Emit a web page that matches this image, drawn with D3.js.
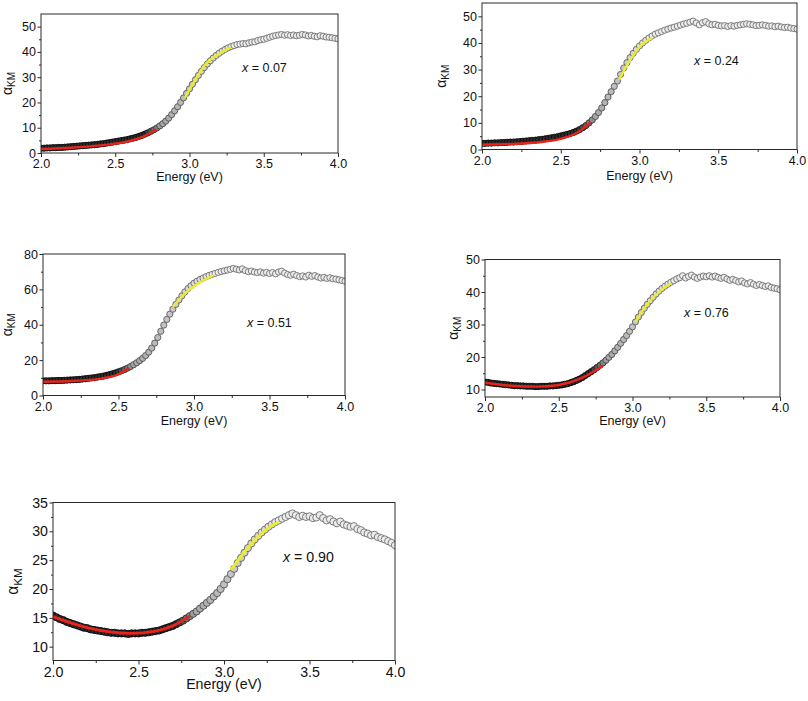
<!DOCTYPE html>
<html>
<head>
<meta charset="utf-8">
<script src="https://cdn.jsdelivr.net/npm/d3@7"></script>
<style>
  html, body { margin: 0; padding: 0; background: #fff; }
  svg { display: block; font-family: "Liberation Sans", Arial, sans-serif; }
</style>
</head>
<body>
<svg id="chart" width="808" height="701"></svg>
<script>
// ---------------- DATA ----------------
const energy = [
  2.00,2.02,2.04,2.06,2.08,2.10,2.12,2.14,2.16,2.18,
  2.20,2.22,2.24,2.26,2.28,2.30,2.32,2.34,2.36,2.38,
  2.40,2.42,2.44,2.46,2.48,2.50,2.52,2.54,2.56,2.58,
  2.60,2.62,2.64,2.66,2.68,2.70,2.72,2.74,2.76,2.78,
  2.80,2.82,2.84,2.86,2.88,2.90,2.92,2.94,2.96,2.98,
  3.00,3.02,3.04,3.06,3.08,3.10,3.12,3.14,3.16,3.18,
  3.20,3.22,3.24,3.26,3.28,3.30,3.32,3.34,3.36,3.38,
  3.40,3.42,3.44,3.46,3.48,3.50,3.52,3.54,3.56,3.58,
  3.60,3.62,3.64,3.66,3.68,3.70,3.72,3.74,3.76,3.78,
  3.80,3.82,3.84,3.86,3.88,3.90,3.92,3.94,3.96,3.98,
  4.00
];

const alpha007 = [
  1.9,1.9,2.0,2.0,2.1,2.1,2.2,2.2,2.3,2.4,
  2.5,2.6,2.7,2.8,2.9,3.0,3.1,3.2,3.3,3.4,
  3.6,3.7,3.9,4.1,4.3,4.5,4.7,4.9,5.1,5.3,
  5.6,5.9,6.2,6.6,7.0,7.5,8.0,8.6,9.2,9.9,
  10.7,11.6,12.6,13.8,15.2,16.7,18.3,20.0,21.8,23.6,
  25.4,27.2,29.0,30.7,32.3,33.8,35.2,36.5,37.6,38.6,
  39.5,40.3,41.0,41.6,42.1,42.5,42.9,43.1,43.3,43.2,
  43.6,43.9,44.0,44.5,44.8,45.0,45.4,45.8,46.2,46.5,
  46.7,46.9,46.6,46.8,46.5,46.7,46.4,46.6,46.9,46.7,
  46.3,46.5,46.2,46.0,46.4,46.2,45.9,45.8,45.6,45.4,
  45.2
];
const alpha024 = [
  2.3,2.3,2.4,2.4,2.5,2.5,2.6,2.6,2.7,2.8,
  2.8,2.9,3.0,3.1,3.2,3.3,3.4,3.5,3.7,3.8,
  4.0,4.2,4.4,4.6,4.8,5.1,5.4,5.7,6.0,6.4,
  6.9,7.5,8.2,9.0,10.0,11.1,12.4,13.9,15.6,17.6,
  19.7,21.7,23.7,25.7,28.2,30.6,32.6,34.5,36.1,37.6,
  38.9,40.0,41.0,41.9,42.6,43.3,43.8,44.3,44.8,45.2,
  45.6,45.9,46.3,46.7,47.1,47.4,47.8,48.2,47.5,46.8,
  47.6,48.0,47.2,46.8,47.0,46.6,46.4,46.5,46.2,46.5,
  46.3,46.6,46.8,47.0,47.2,47.0,46.8,46.5,46.6,46.8,
  46.6,46.3,46.4,46.1,46.3,46.0,45.8,45.9,45.6,45.4,
  45.2
];
const alpha051 = [
  8.3,8.3,8.3,8.4,8.4,8.5,8.5,8.6,8.7,8.8,
  8.9,9.0,9.1,9.3,9.5,9.7,9.9,10.1,10.4,10.7,
  11.0,11.4,11.8,12.3,12.8,13.4,14.0,14.7,15.5,16.4,
  17.4,18.5,19.7,21.0,22.6,24.5,26.8,29.6,32.8,36.3,
  39.8,43.0,46.0,48.8,51.5,54.0,56.4,58.6,60.5,62.1,
  63.5,64.6,65.6,66.4,67.2,67.9,68.5,69.0,69.6,70.1,
  70.5,70.9,71.3,71.8,71.4,71.0,71.6,70.6,70.0,70.4,
  69.8,69.5,69.9,69.2,69.6,69.0,69.5,68.8,69.8,70.3,
  69.2,68.4,68.0,68.6,67.8,67.2,67.6,67.0,68.0,67.4,
  67.8,67.0,66.4,66.8,66.2,66.6,66.0,65.8,65.4,65.0,
  64.6
];
const alpha076 = [
  12.3,12.2,12.0,11.9,11.8,11.7,11.6,11.5,11.4,11.3,
  11.2,11.2,11.1,11.1,11.0,11.0,11.0,10.9,10.9,11.0,
  11.0,11.0,11.1,11.1,11.2,11.3,11.4,11.6,11.8,12.1,
  12.4,12.8,13.2,13.7,14.3,14.9,15.5,16.1,16.8,17.5,
  18.2,19.0,19.9,20.8,21.9,23.0,24.2,25.4,26.6,27.9,
  29.3,30.8,32.3,33.7,35.0,36.2,37.3,38.4,39.4,40.3,
  41.1,41.8,42.4,43.0,43.5,44.0,44.4,45.0,44.3,44.8,
  45.2,44.6,44.2,44.6,44.9,44.7,45.0,44.6,44.9,44.5,
  44.2,44.5,44.0,43.6,43.9,43.5,43.1,43.4,42.8,42.5,
  42.9,42.4,42.0,42.3,42.0,41.7,41.9,41.4,41.2,41.0,
  40.7
];
const alpha090 = [
  15.4,15.1,14.8,14.6,14.3,14.1,13.9,13.7,13.5,13.3,
  13.2,13.0,12.9,12.8,12.7,12.6,12.5,12.4,12.4,12.3,
  12.3,12.3,12.2,12.3,12.3,12.3,12.4,12.4,12.5,12.6,
  12.7,12.8,13.0,13.2,13.4,13.6,13.9,14.2,14.5,14.9,
  15.3,15.7,16.1,16.6,17.1,17.6,18.1,18.7,19.3,20.0,
  20.8,21.7,22.6,23.5,24.5,25.4,26.3,27.1,27.9,28.6,
  29.2,29.8,30.3,30.8,31.2,31.6,31.9,32.2,32.5,32.8,
  33.1,32.8,32.5,32.7,32.5,32.6,32.3,32.4,32.8,32.3,
  31.9,32.1,31.7,31.4,31.7,31.2,31.0,30.8,30.9,30.4,
  30.2,29.8,29.6,29.3,29.4,29.0,28.8,28.6,28.3,28.0,
  27.6
];

// Fit lines (red: sub-gap region, yellow: band-edge region)
const red007E = [2.00, 2.20, 2.40, 2.50, 2.60, 2.70, 2.78];
const red007V = [1.6, 2.1, 3.0, 3.7, 4.8, 6.8, 9.4];
const yel007E = [2.97, 3.05, 3.10, 3.20, 3.28];
const yel007V = [22.0, 30.0, 34.5, 39.3, 41.8];

const red024E = [2.00, 2.20, 2.40, 2.50, 2.60, 2.69];
const red024V = [1.8, 2.1, 3.0, 4.0, 6.2, 10.2];
const yel024E = [2.87, 2.95, 3.00, 3.08];
const yel024V = [26.2, 34.5, 38.5, 41.9];

const red051E = [2.00, 2.20, 2.40, 2.50, 2.57];
const red051V = [7.8, 8.2, 9.8, 12.0, 15.6];
const yel051E = [2.86, 2.95, 3.05, 3.13];
const yel051V = [50.2, 58.5, 64.5, 68.0];

const red076E = [2.00, 2.20, 2.35, 2.50, 2.65, 2.80];
const red076V = [12.1, 11.1, 10.9, 11.4, 13.4, 17.3];
const yel076E = [3.02, 3.10, 3.20, 3.26];
const yel076V = [30.8, 36.2, 40.8, 42.6];

const red090E = [2.00, 2.20, 2.45, 2.60, 2.70, 2.80];
const red090V = [15.2, 13.3, 12.3, 12.7, 13.6, 15.3];
const yel090E = [3.04, 3.15, 3.25, 3.32];
const yel090V = [23.3, 27.5, 30.4, 31.6];

const compositions = ["0.07", "0.24", "0.51", "0.76", "0.90"];
const xTicks = [2.0, 2.5, 3.0, 3.5, 4.0];
const xMinorTicks = [2.25, 2.75, 3.25, 3.75];
const yTicks007 = [0, 10, 20, 30, 40, 50];
const yMinor007 = [5, 15, 25, 35, 45];
const yTicks051 = [0, 20, 40, 60, 80];
const yMinor051 = [10, 30, 50, 70];
const yTicks076 = [10, 20, 30, 40, 50];
const yMinor076 = [15, 25, 35, 45];
const yTicks090 = [10, 15, 20, 25, 30, 35];
const yMinor090 = [12.5, 17.5, 22.5, 27.5, 32.5];

// ---------------- LAYOUT ----------------
const panels = [
  { vals: alpha007, redE: red007E, redV: red007V, yelE: yel007E, yelV: yel007V, comp: compositions[0],
    yT: yTicks007, yM: yMinor007, yDom: [0, 55],
    L: 41, R: 338, T: 14, B: 153, fs: 12.5, yLabX: 12, xLabY: 181, ann: [242, 72], lw: 2.4 },
  { vals: alpha024, redE: red024E, redV: red024V, yelE: yel024E, yelV: yel024V, comp: compositions[1],
    yT: yTicks007, yM: yMinor007, yDom: [0, 55],
    L: 482, R: 797, T: 3, B: 149.5, fs: 12.5, yLabX: 446, xLabY: 180, ann: [694, 65], lw: 2.4 },
  { vals: alpha051, redE: red051E, redV: red051V, yelE: yel051E, yelV: yel051V, comp: compositions[2],
    yT: yTicks051, yM: yMinor051, yDom: [0, 80],
    L: 43, R: 345, T: 254, B: 395.5, fs: 12.5, yLabX: 12, xLabY: 424.5, ann: [247, 327], lw: 2.4 },
  { vals: alpha076, redE: red076E, redV: red076V, yelE: yel076E, yelV: yel076V, comp: compositions[3],
    yT: yTicks076, yM: yMinor076, yDom: [7.7, 50],
    L: 485, R: 780, T: 259.5, B: 397, fs: 12.5, yLabX: 458, xLabY: 425, ann: [684, 317], lw: 2.4 },
  { vals: alpha090, redE: red090E, redV: red090V, yelE: yel090E, yelV: yel090V, comp: compositions[4],
    yT: yTicks090, yM: yMinor090, yDom: [7.6, 35],
    L: 53, R: 395, T: 502.5, B: 660.5, fs: 14.2, yLabX: 18, xLabY: 689, ann: [283, 562], lw: 2.8 }
];

const svg = d3.select("#chart");
const frameColor = "#2a2a2a";

panels.forEach(p => {
  const x = d3.scaleLinear().domain([2.0, 4.0]).range([p.L, p.R]);
  const y = d3.scaleLinear().domain(p.yDom).range([p.B, p.T]);
  const g = svg.append("g");

  const redEnd = p.redE[p.redE.length - 1];
  const yelEnd = p.yelE[p.yelE.length - 1];
  const strokeScale = d3.scaleLinear().domain([redEnd - 0.08, redEnd + 0.03, yelEnd])
    .range(["#080808", "#4a4a4a", "#707070"]).clamp(true);
  const fillScale = d3.scaleLinear().domain([redEnd - 0.08, redEnd + 0.03, yelEnd])
    .range(["#2e2e2e", "#a8a8a8", "#ececec"]).clamp(true);

  const cid = "clip" + p.comp.replace(".", "");
  svg.append("clipPath").attr("id", cid).append("rect")
    .attr("x", p.L).attr("y", p.T).attr("width", p.R - p.L).attr("height", p.B - p.T);

  const dg = g.append("g").attr("clip-path", `url(#${cid})`);
  const pts = energy.map((e, i) => ({ e, v: p.vals[i] }));
  const r = p.fs > 13 ? 3.6 : 3.1;
  dg.selectAll("circle").data(pts).join("circle")
    .attr("cx", d => x(d.e)).attr("cy", d => y(d.v)).attr("r", r)
    .attr("fill", d => fillScale(d.e))
    .attr("stroke", d => strokeScale(d.e))
    .attr("stroke-width", 0.9);

  const line = d3.line().x(d => x(d[0])).y(d => y(d[1])).curve(d3.curveMonotoneX);
  dg.append("path").datum(p.redE.map((e, i) => [e, p.redV[i]]))
    .attr("d", line).attr("fill", "none").attr("stroke", "#e8241c").attr("stroke-width", p.lw);
  dg.append("path").datum(p.yelE.map((e, i) => [e, p.yelV[i]]))
    .attr("d", line).attr("fill", "none").attr("stroke", "#ecec2c").attr("stroke-width", p.lw);

  g.append("rect").attr("x", p.L).attr("y", p.T).attr("width", p.R - p.L).attr("height", p.B - p.T)
    .attr("fill", "none").attr("stroke", frameColor).attr("stroke-width", 1);

  const fmtX = d3.format(".1f");
  const xAx = g.append("g").attr("transform", `translate(0,${p.B})`)
    .call(d3.axisBottom(x).tickValues(xTicks).tickFormat(fmtX).tickSize(4).tickPadding(2.5).tickSizeOuter(0));
  const xAxm = g.append("g").attr("transform", `translate(0,${p.B})`)
    .call(d3.axisBottom(x).tickValues(xMinorTicks).tickFormat("").tickSize(2.5).tickSizeOuter(0));
  const yAx = g.append("g").attr("transform", `translate(${p.L},0)`)
    .call(d3.axisLeft(y).tickValues(p.yT).tickFormat(d3.format("d")).tickSize(3.5).tickPadding(1.5).tickSizeOuter(0));
  const yAxm = g.append("g").attr("transform", `translate(${p.L},0)`)
    .call(d3.axisLeft(y).tickValues(p.yM).tickFormat("").tickSize(2).tickSizeOuter(0));
  [xAx, xAxm, yAx, yAxm].forEach(a => {
    a.select(".domain").remove();
    a.selectAll("line").attr("stroke", frameColor);
    a.selectAll("text").attr("fill", "#111").style("font-size", p.fs + "px")
      .style("font-family", '"Liberation Sans", Arial, sans-serif');
  });

  g.append("text").attr("x", (p.L + p.R) / 2).attr("y", p.xLabY)
    .attr("text-anchor", "middle").attr("fill", "#111").style("font-size", p.fs + "px")
    .text("Energy (eV)");

  const yt = g.append("text")
    .attr("transform", `translate(${p.yLabX},${(p.T + p.B) / 2}) rotate(-90)`)
    .attr("text-anchor", "middle").attr("fill", "#111").style("font-size", (p.fs + 1.5) + "px");
  yt.append("tspan").text("α");
  yt.append("tspan").attr("dy", "0.3em").style("font-size", (p.fs - 2.5) + "px").text("KM");

  const an = g.append("text").attr("x", p.ann[0]).attr("y", p.ann[1])
    .attr("fill", "#111").style("font-size", p.fs + "px");
  an.append("tspan").style("font-style", "italic").text("x");
  an.append("tspan").text(" = " + p.comp);
});
</script>
</body>
</html>
